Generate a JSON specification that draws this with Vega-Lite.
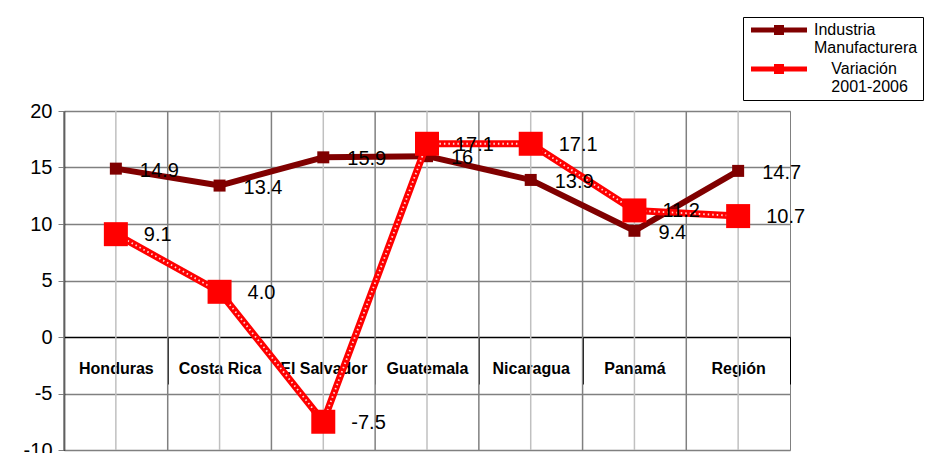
{
  "$schema": "https://vega.github.io/schema/vega-lite/v6.json",
  "width": 726,
  "height": 339,
  "autosize": {"type": "none"},
  "padding": {"left": 64, "top": 111, "right": 139, "bottom": 3},
  "background": "white",
  "config": {
    "font": "Liberation Sans",
    "view": {"stroke": "#808080", "strokeWidth": 1},
    "legend": {
      "orient": "none",
      "legendX": 679,
      "legendY": -94,
      "strokeColor": "black",
      "fillColor": "white",
      "padding": 5,
      "labelFontSize": 16,
      "labelFont": "Liberation Sans",
      "labelColor": "black",
      "symbolType": "M-1,-0.5H10.2V0.5H-1Z M3.6,-1H5.6V1H3.6Z",
      "symbolSize": 100,
      "symbolStrokeWidth": 0,
      "labelOffset": 50,
      "rowPadding": 5
    }
  },
  "data": {
    "values": [
      {"pais": "Honduras", "serie": "Industria Manufacturera", "valor": 14.9, "etiqueta": "14.9"},
      {"pais": "Costa Rica", "serie": "Industria Manufacturera", "valor": 13.4, "etiqueta": "13.4"},
      {"pais": "El Salvador", "serie": "Industria Manufacturera", "valor": 15.9, "etiqueta": "15.9"},
      {"pais": "Guatemala", "serie": "Industria Manufacturera", "valor": 16.0, "etiqueta": "16"},
      {"pais": "Nicaragua", "serie": "Industria Manufacturera", "valor": 13.9, "etiqueta": "13.9"},
      {"pais": "Panamá", "serie": "Industria Manufacturera", "valor": 9.4, "etiqueta": "9.4"},
      {"pais": "Región", "serie": "Industria Manufacturera", "valor": 14.7, "etiqueta": "14.7"},
      {"pais": "Honduras", "serie": "Variación 2001-2006", "valor": 9.1, "etiqueta": "9.1"},
      {"pais": "Costa Rica", "serie": "Variación 2001-2006", "valor": 4.0, "etiqueta": "4.0"},
      {"pais": "El Salvador", "serie": "Variación 2001-2006", "valor": -7.5, "etiqueta": "-7.5"},
      {"pais": "Guatemala", "serie": "Variación 2001-2006", "valor": 17.1, "etiqueta": "17.1"},
      {"pais": "Nicaragua", "serie": "Variación 2001-2006", "valor": 17.1, "etiqueta": "17.1"},
      {"pais": "Panamá", "serie": "Variación 2001-2006", "valor": 11.2, "etiqueta": "11.2"},
      {"pais": "Región", "serie": "Variación 2001-2006", "valor": 10.7, "etiqueta": "10.7"}
    ]
  },
  "encoding": {
    "x": {
      "field": "pais",
      "type": "nominal",
      "sort": null,
      "scale": {"type": "band", "paddingInner": 0, "paddingOuter": 0},
      "axis": {
        "orient": "bottom",
        "title": null,
        "offset": -113,
        "grid": false,
        "domainColor": "black",
        "domainWidth": 1,
        "tickColor": "black",
        "tickWidth": 1,
        "tickSize": 47,
        "tickBand": "extent",
        "labelAngle": 0,
        "labelFontSize": 16,
        "labelFontWeight": "bold",
        "labelColor": "black",
        "labelBaseline": "middle",
        "labelPadding": -16
      }
    }
  },
  "layer": [
    {
      "transform": [{"filter": "datum.serie == 'Industria Manufacturera'"}],
      "mark": {"type": "rule", "color": "#c0c0c0", "strokeWidth": 1.5},
      "encoding": {"x": {"field": "pais", "type": "nominal", "sort": null, "bandPosition": 0.5}}
    },
    {
      "transform": [{"filter": "datum.serie == 'Industria Manufacturera'"}],
      "mark": {"type": "rule", "color": "#808080", "strokeWidth": 1.5},
      "encoding": {"x": {"field": "pais", "type": "nominal", "sort": null, "bandPosition": 0}}
    },
    {
      "transform": [{"filter": "datum.serie == 'Industria Manufacturera'"}],
      "mark": {"type": "line", "strokeWidth": 6, "strokeJoin": "round"},
      "encoding": {
        "y": {
          "field": "valor",
          "type": "quantitative",
          "scale": {"domain": [-10, 20], "nice": false, "zero": false},
          "axis": {
            "title": null,
            "values": [-10, -5, 0, 5, 10, 15, 20],
            "labelExpr": "replace(datum.label, '\u2212', '-')",
            "grid": true,
            "gridColor": {"condition": {"test": "datum.value === 0", "value": "black"}, "value": "#808080"},
            "gridWidth": 1.5,
            "domainColor": "black",
            "domainWidth": 1.5,
            "tickColor": "#808080",
            "tickSize": 6,
            "labelFontSize": 20,
            "labelColor": "black",
            "labelPadding": 6
          }
        },
        "color": {
          "field": "serie",
          "type": "nominal",
          "scale": {"domain": ["Industria Manufacturera", "Variación 2001-2006"], "range": ["#800000", "#ff0000"]},
          "legend": {
            "title": null,
            "labelExpr": "datum.label == 'Industria Manufacturera' ? ['Industria', 'Manufacturera\u200b\u2002'] : ['\u200b\u2002\u2002\u200aVariación', '\u200b\u2002\u2002\u200a2001-2006']"
          }
        }
      }
    },
    {
      "transform": [{"filter": "datum.serie == 'Industria Manufacturera'"}],
      "mark": {"type": "point", "shape": "square", "filled": true, "size": 144, "opacity": 1},
      "encoding": {
        "y": {"field": "valor", "type": "quantitative"},
        "color": {"field": "serie", "type": "nominal"}
      }
    },
    {
      "transform": [{"filter": "datum.serie == 'Variación 2001-2006'"}],
      "mark": {"type": "line", "strokeWidth": 7, "strokeJoin": "round"},
      "encoding": {
        "y": {"field": "valor", "type": "quantitative"},
        "color": {"field": "serie", "type": "nominal"}
      }
    },
    {
      "transform": [{"filter": "datum.serie == 'Variación 2001-2006'"}],
      "mark": {"type": "line", "strokeWidth": 1.8, "color": "white", "strokeDash": [1.5, 3], "opacity": 0.85},
      "encoding": {
        "y": {"field": "valor", "type": "quantitative"}
      }
    },
    {
      "transform": [{"filter": "datum.serie == 'Variación 2001-2006'"}],
      "mark": {"type": "point", "shape": "square", "filled": true, "size": 576, "opacity": 1},
      "encoding": {
        "y": {"field": "valor", "type": "quantitative"},
        "color": {"field": "serie", "type": "nominal"}
      }
    },
    {
      "transform": [{"filter": "datum.serie == 'Industria Manufacturera'"}],
      "mark": {"type": "text", "align": "left", "baseline": "middle", "dx": 24, "dy": 2, "fontSize": 20, "color": "black"},
      "encoding": {
        "y": {"field": "valor", "type": "quantitative"},
        "text": {"field": "etiqueta"}
      }
    },
    {
      "transform": [{"filter": "datum.serie == 'Variación 2001-2006'"}],
      "mark": {"type": "text", "align": "left", "baseline": "middle", "dx": 28, "dy": 1, "fontSize": 20, "color": "black"},
      "encoding": {
        "y": {"field": "valor", "type": "quantitative"},
        "text": {"field": "etiqueta"}
      }
    }
  ]
}
